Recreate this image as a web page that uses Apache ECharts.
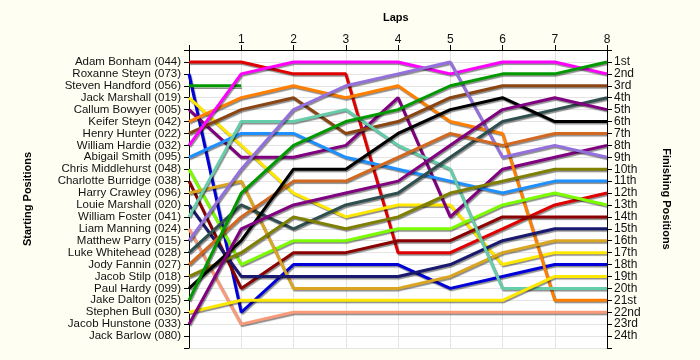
<!DOCTYPE html>
<html>
<head>
<meta charset="utf-8">
<script src="https://cdn.jsdelivr.net/npm/echarts@6/dist/echarts.min.js"></script>
<style>
html,body{margin:0;padding:0;background:#fffef3;}
#c{width:700px;height:360px;}
</style>
</head>
<body>
<div id="c"></div>
<script>
// Laps 0..8
const laps = [0, 1, 2, 3, 4, 5, 6, 7, 8];
const lapLabels = ['', '1', '2', '3', '4', '5', '6', '7', '8'];

// Starting grid names (position 1..24)
const drivers = [
  'Adam Bonham (044)', 'Roxanne Steyn (073)', 'Steven Handford (056)', 'Jack Marshall (019)',
  'Callum Bowyer (005)', 'Keifer Steyn (042)', 'Henry Hunter (022)', 'William Hardie (032)',
  'Abigail Smith (095)', 'Chris Middlehurst (048)', 'Charlotte Burridge (038)', 'Harry Crawley (096)',
  'Louie Marshall (020)', 'William Foster (041)', 'Liam Manning (024)', 'Matthew Parry (015)',
  'Luke Whitehead (028)', 'Jody Fannin (027)', 'Jacob Stilp (018)', 'Paul Hardy (099)',
  'Jake Dalton (025)', 'Stephen Bull (030)', 'Jacob Hunstone (033)', 'Jack Barlow (080)'
];

const finishLabels = ['1st','2nd','3rd','4th','5th','6th','7th','8th','9th','10th','11th','12th',
  '13th','14th','15th','16th','17th','18th','19th','20th','21st','22nd','23rd','24th'];

// Positions per lap (lap 0 .. lap 8)
const adamBonham       = [1, 1, 2, 2, 17, 17, 15, 13, 12];
const roxanneSteyn     = [2, 22, 18, 18, 18, 20, 19, 18, 18];
const stevenHandford   = [3, 3];
const jackMarshall     = [4, 8, 12, 14, 13, 13, 18, 17, 17];
const callumBowyer     = [5, 9, 9, 8, 4, 14, 10, 9, 8];
const keiferSteyn      = [6, 4, 3, 4, 3, 6, 7, 21, 21];
const henryHunter      = [7, 5, 4, 7, 6, 4, 3, 3, 3];
const williamHardie    = [8, 2, 1, 1, 1, 2, 1, 1, 2];
const abigailSmith     = [9, 7, 7, 9, 10, 11, 12, 11, 11];
const chrisMiddlehurst = [10, 18, 16, 16, 15, 15, 13, 12, 13];
const charlotteBurridge= [11, 20, 17, 17, 16, 16, 14, 14, 14];
const harryCrawley     = [12, 11, 20, 20, 20, 19, 17, 16, 16];
const louieMarshall    = [13, 19, 19, 19, 19, 18, 16, 15, 15];
const williamFoster    = [14, 6, 6, 5, 8, 10, 20, 20, 20];
const liamManning      = [15, 23, 22, 22, 22, 22, 22, 22, 22];
const matthewParry     = [16, 10, 5, 3, 2, 1, 9, 8, 9];
const lukeWhitehead    = [17, 13, 15, 13, 12, 9, 6, 5, 4];
const jodyFannin       = [18, 14, 11, 11, 9, 7, 8, 7, 7];
const jacobStilp       = [19, 17, 14, 15, 14, 12, 11, 10, 10];
const paulHardy        = [20, 16, 10, 10, 7, 5, 4, 6, 6];
const jakeDalton       = [21, 12, 8, 6, 5, 3, 2, 2, 1];
const stephenBull      = [22, 21, 21, 21, 21, 21, 21, 19, 19];
const jacobHunstone    = [23, 15, 13, 12, 11, 8, 5, 4, 5];
const jackBarlow       = [];

const seriesPositions = [
  adamBonham, roxanneSteyn, stevenHandford, jackMarshall, callumBowyer, keiferSteyn,
  henryHunter, williamHardie, abigailSmith, chrisMiddlehurst, charlotteBurridge, harryCrawley,
  louieMarshall, williamFoster, liamManning, matthewParry, lukeWhitehead, jodyFannin,
  jacobStilp, paulHardy, jakeDalton, stephenBull, jacobHunstone, jackBarlow
];

const colors = [
  '#e00000', '#0000d8', '#009a00', '#ffe800', '#800080', '#ff8000',
  '#8b4513', '#ff00ff', '#1e90ff', '#7cfc00', '#8b0000', '#daa520',
  '#191970', '#66cdaa', '#f99a7a', '#9370db', '#2f4f4f', '#d2691e',
  '#808000', '#000000', '#009a00', '#ffe800', '#800080', '#888888'
];

const series = drivers.map((name, i) => ({
  name: name,
  type: 'line',
  xAxisIndex: 0,
  yAxisIndex: 0,
  symbol: 'none',
  silent: true,
  animation: false,
  data: seriesPositions[i].map((p, k) => [laps[k], p]),
  lineStyle: {
    color: colors[i],
    width: 3,
    shadowColor: 'rgba(0,0,0,0.45)',
    shadowBlur: 1,
    shadowOffsetX: 1,
    shadowOffsetY: 1.5
  }
}));

const chart = echarts.init(document.getElementById('c'), null, {renderer: 'canvas'});
const labelFont = {fontFamily: 'Liberation Sans, Arial, sans-serif', fontSize: 11.5, color: '#111'};

chart.setOption({
  backgroundColor: '#fffef3',
  animation: false,
  grid: {left: 189, right: 93, top: 50, bottom: 12, show: true, backgroundColor: '#ffffff', borderWidth: 0},
  xAxis: {
    type: 'value', position: 'top', min: 0, max: 8, interval: 1,
    axisLine: {show: true, lineStyle: {color: '#000', width: 1}},
    axisTick: {show: true, length: 5, lineStyle: {color: '#000'}},
    axisLabel: Object.assign({margin: 4, formatter: v => lapLabels[v] || ''}, labelFont, {fontSize: 12}),
    splitLine: {show: true, lineStyle: {color: '#e4e4e4', width: 1}}
  },
  yAxis: [
    {
      type: 'value', inverse: true, min: 0, max: 25, interval: 1, position: 'left',
      axisLine: {show: true, lineStyle: {color: '#000', width: 1}},
      axisTick: {show: true, length: 5, lineStyle: {color: '#000'}},
      axisLabel: Object.assign({margin: 8, formatter: v => (v >= 1 && v <= 24) ? drivers[v - 1] : ''}, labelFont),
      splitLine: {show: true, lineStyle: {color: '#e4e4e4', width: 1}}
    },
    {
      type: 'value', inverse: true, min: 0, max: 25, interval: 1, position: 'right',
      axisLine: {show: true, lineStyle: {color: '#000', width: 1}},
      axisTick: {show: true, length: 5, lineStyle: {color: '#000'}},
      axisLabel: Object.assign({margin: 7, formatter: v => (v >= 1 && v <= 24) ? finishLabels[v - 1] : ''}, labelFont, {fontSize: 12}),
      splitLine: {show: false}
    }
  ],
  graphic: [
    {type: 'text', left: 383, top: 12, style: {text: 'Laps', font: 'bold 11px Liberation Sans, Arial, sans-serif', fill: '#000'}},
    {type: 'text', x: 28, y: 199, rotation: Math.PI / 2, style: {text: 'Starting Positions', font: 'bold 11px Liberation Sans, Arial, sans-serif', fill: '#000', align: 'center', verticalAlign: 'middle'}},
    {type: 'text', x: 666, y: 199, rotation: -Math.PI / 2, style: {text: 'Finishing Positions', font: 'bold 11px Liberation Sans, Arial, sans-serif', fill: '#000', align: 'center', verticalAlign: 'middle'}}
  ],
  series: series
});
</script>
</body>
</html>
